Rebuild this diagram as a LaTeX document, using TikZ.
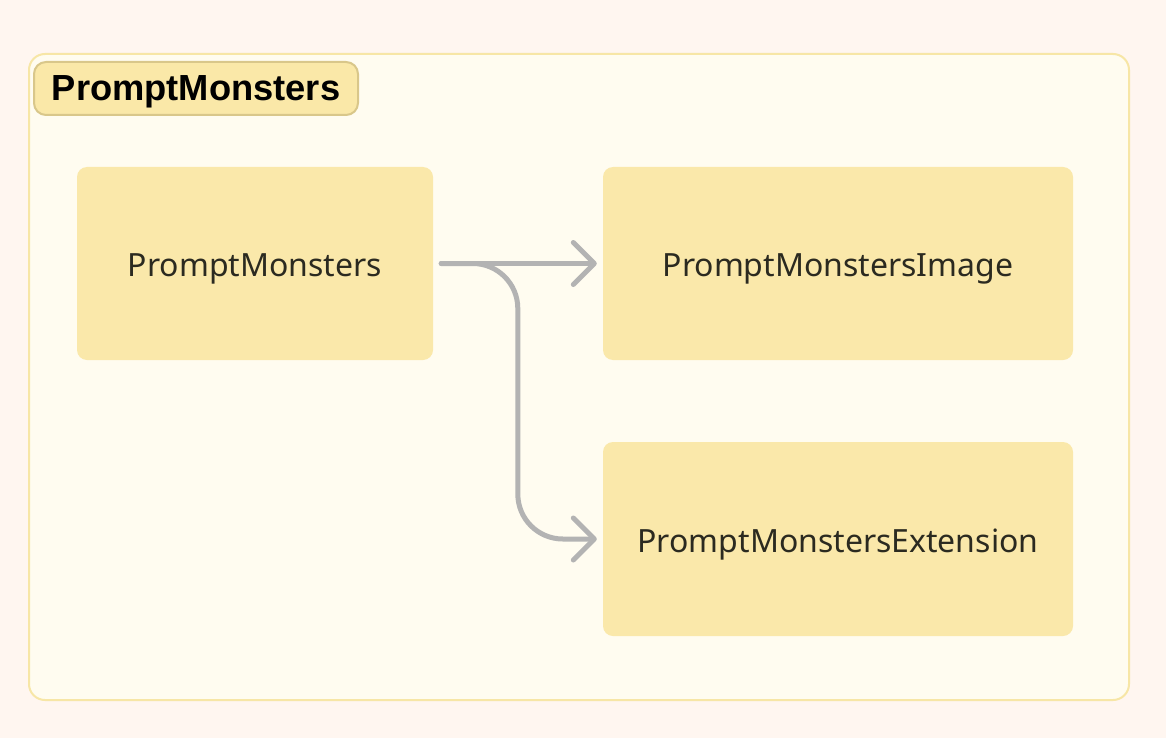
\documentclass[tikz,border=0pt]{standalone}
\usepackage{fontspec}
\setmainfont{Noto Sans}
\newfontfamily\titlefont{Liberation Sans}
\usetikzlibrary{arrows.meta}
\definecolor{pagebg}{HTML}{FFF6F0}
\definecolor{contfill}{HTML}{FFFCF0}
\definecolor{contline}{HTML}{F7E6A6}
\definecolor{tagfill}{HTML}{FAE8A8}
\definecolor{tagline}{HTML}{D9C78A}
\definecolor{boxfill}{HTML}{FAE8AA}
\definecolor{boxtext}{HTML}{2B2A20}
\definecolor{connc}{HTML}{B3B3B3}
\tikzset{
  container/.style={draw=contline, line width=2pt, fill=contfill, rounded corners=16pt},
  tag/.style={draw=tagline, line width=2pt, fill=tagfill, rounded corners=12pt, inner sep=0pt, text=black, font=\titlefont\bfseries\fontsize{36.3}{40}\selectfont, text height=23.5pt, text depth=0pt},
  box/.style={fill=boxfill, rounded corners=10pt, inner sep=0pt, text=boxtext, font=\fontsize{32}{38}\selectfont, text height=26pt, text depth=0pt},
  conn/.style={draw=connc, line width=5pt, line cap=round, line join=round, -{Straight Barb[length=21pt,width=42pt,round]}}
}
\begin{document}
\begin{tikzpicture}[x=1pt,y=-1pt]
\useasboundingbox (0,0) rectangle (1166,738);
\fill[pagebg] (0,0) rectangle (1166,738);
\draw[container] (29,54) rectangle (1129,700);
\node[tag, minimum width=324pt, minimum height=53pt] (title) at (196,88.5) {PromptMonsters};
\node[box, minimum width=356pt, minimum height=193pt] (a) at (255,263.5) {PromptMonsters};
\node[box, minimum width=470pt, minimum height=193pt] (b) at (838,263.5) {PromptMonstersImage};
\node[box, minimum width=470pt, minimum height=194pt] (c) at (838,539) {PromptMonstersExtension};
\draw[conn] ([xshift=8pt]a.east) -- ([xshift=-6pt]b.west);
\draw[conn, rounded corners=45pt] ([xshift=8pt]a.east) -| ([xshift=-85pt]c.west) -- ([xshift=-6pt]c.west);
\end{tikzpicture}
\end{document}
